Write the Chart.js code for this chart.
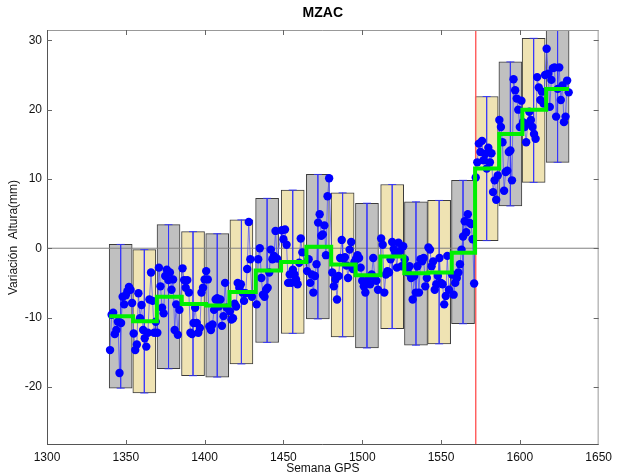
<!DOCTYPE html>
<html>
<head>
<meta charset="utf-8">
<script src="https://cdn.jsdelivr.net/npm/chart.js@4.4.1/dist/chart.umd.min.js"></script>
<style>
  html, body { margin: 0; padding: 0; background: #fff; }
</style>
</head>
<body>
<canvas id="chart" width="617" height="476"></canvas>
<script>
const weekTicks = [1300, 1350, 1400, 1450, 1500, 1550, 1600, 1650];
const heightTicks = [-20, -10, 0, 10, 20, 30];
const eventWeek = 1572;

// segments (GPS week span of each box), mean and box limits in mm
const segStart = [1339.5, 1354.6, 1369.7, 1385.5, 1400.9, 1415.8, 1432.4, 1448.5, 1464.6, 1480.3, 1495.8, 1511.6, 1526.7, 1541.9, 1556.8, 1571.6, 1586.9, 1601.6, 1616.7];
const segEnd = [1354.0, 1368.9, 1384.5, 1399.8, 1415.1, 1430.9, 1446.9, 1463.3, 1479.1, 1494.8, 1510.2, 1526.4, 1541.5, 1555.7, 1571.1, 1586.3, 1601.1, 1615.9, 1631.2];
const segMean = [-9.8, -10.55, -7.0, -8.05, -8.25, -6.3, -3.2, -2.0, 0.2, -2.35, -3.9, -1.2, -3.6, -3.5, -0.65, 11.5, 16.5, 20.0, 23.0];
const segHigh = [0.55, -0.2, 3.4, 2.4, 2.1, 4.1, 7.2, 8.4, 10.65, 8.0, 6.5, 9.2, 6.7, 6.9, 9.8, 21.9, 26.9, 30.3, 33.4];
const segLow = [-20.2, -20.9, -17.4, -18.4, -18.6, -16.7, -13.6, -12.3, -10.2, -12.8, -14.4, -11.6, -14.0, -13.8, -10.9, 1.1, 6.1, 9.5, 12.4];

// weekly height solutions, first week of each segment + values
const firstWeek = [1340, 1355, 1370, 1386, 1401, 1416, 1433, 1449, 1465, 1481, 1496, 1512, 1527, 1542, 1557, 1572, 1587, 1602, 1617];
const heights = [
  [-14.7, -9.6, -9.3, -12.4, -11.8, -10.6, -18.0, -10.8, -7.0, -8.1, -6.8, -6.2, -5.6, -6.0, -7.9],
  [-12.3, -14.7, -13.9, -6.5, -10.1, -8.2, -11.8, -13.0, -14.2, -12.2, -7.4, -3.5, -7.6, -12.2, -10.6],
  [-12.2, -2.8, -5.5, -8.6, -9.4, -4.0, -3.1, -4.6, -3.5, -6.0, -4.5, -11.8, -8.1, -12.5, -8.9],
  [-2.9, -4.6, -5.7, -4.6, -6.4, -12.2, -12.4, -10.8, -8.6, -10.8, -12.2, -11.5, -6.4, -5.7, -4.5],
  [-3.3, -4.5, -11.3, -11.8, -11.0, -8.9, -7.4, -7.2, -8.4, -7.4, -11.2, -9.8, -5.0, -8.6],
  [-9.1, -10.3, -10.1, -8.0, -8.4, -5.0, -5.7, -5.2, -6.4, -7.6, -6.5, -3.0, 3.8, -1.6, -7.0],
  [-8.1, -1.6, 0.0, -4.3, -6.7, -7.0, -6.0, -5.7, -3.5, -0.2, -1.6, -1.1, 2.5, -1.5],
  [2.6, 1.3, 2.7, 0.5, -5.0, -3.8, -5.0, -3.1, -3.8, -4.5, -5.2, -2.1, 1.4, -0.6],
  [-3.3, -1.6, -5.0, -3.8, -6.4, -4.0, -2.3, 3.7, 4.9, 1.8, 2.0, 3.3, -1.0, 7.5, 10.1],
  [-3.5, -5.5, -4.5, -7.4, -4.0, -1.4, 1.2, -1.5, -1.3, -2.5, -4.3, -0.2, 0.9, -3.0, -2.0],
  [-1.6, -1.0, -1.4, -2.8, -4.7, -5.5, -6.4, -5.0, -4.3, -5.2, -3.8, -1.4, -4.3, -4.7, -6.0],
  [1.4, 0.5, -6.4, -3.8, -3.3, -3.5, -1.6, 0.9, -0.1, -0.6, -2.8, 0.8, -0.4, -2.6, 0.3],
  [-1.6, -2.8, -3.5, -2.6, -4.3, -7.4, -4.0, -6.4, -2.6, -6.4, -1.6, -1.9, -1.4, -5.5, -4.3],
  [0.1, -0.2, -2.6, -1.9, -6.0, -5.2, -4.0, -1.4, -5.0, -5.2, -8.1, -6.9, -1.1, -6.0],
  [-3.8, -6.7, -5.0, -4.3, -3.5, -2.3, -0.2, 1.7, 3.9, 2.3, 4.9, 3.7, 3.5, 1.3, -5.1],
  [10.2, 12.4, 15.1, 13.9, 15.5, 12.7, 13.6, 11.5, 14.5, 12.4, 13.7, 8.1, 9.8, 7.0, 10.5],
  [18.5, 17.5, 15.3, 8.3, 11.0, 11.2, 13.9, 14.1, 9.8, 24.4, 22.8, 21.6, 20.0, 17.5, 21.3],
  [18.2, 17.5, 15.3, 18.0, 19.7, 18.5, 17.5, 16.5, 15.8, 24.7, 23.2, 21.4, 22.6, 20.9, 25.0],
  [28.8, 25.2, 20.4, 24.3, 26.0, 26.1, 19.0, 23.0, 26.1, 21.4, 23.5, 18.2, 19.0, 24.2, 22.5],
];

const xMin = 1300, xMax = 1650, yMin = -28.4, yMax = 31.5;
const FONT = '"Liberation Sans", Arial, sans-serif';

const centers = segStart.map((s, i) => (s + segEnd[i]) / 2);

const series = [];
heights.forEach((vals, i) => vals.forEach((v, j) => series.push({ x: firstWeek[i] + j, y: v })));

const boxes = centers.map((c, i) => ({ x: c, y: [segLow[i], segHigh[i]] }));

const errBars = [];
centers.forEach((c, i) => {
  errBars.push({ x: c, y: segHigh[i] }, { x: c, y: segLow[i] }, { x: c, y: null });
});

const steps = segStart.map((s, i) => ({ x: s, y: segMean[i] }));
steps.push({ x: segEnd[segEnd.length - 1], y: segMean[segMean.length - 1] });

const frame = {
  id: "frame",
  afterDraw(chart) {
    const { ctx, chartArea: a, scales: { x, y } } = chart;
    ctx.save();
    ctx.lineWidth = 1;
    ctx.strokeStyle = "#999";
    ctx.beginPath();
    ctx.moveTo(a.left, a.top + 0.5); ctx.lineTo(a.right, a.top + 0.5);
    ctx.moveTo(a.right - 0.5, a.top); ctx.lineTo(a.right - 0.5, a.bottom);
    ctx.stroke();
    ctx.strokeStyle = "#555";
    ctx.beginPath();
    ctx.moveTo(a.left + 0.5, a.top); ctx.lineTo(a.left + 0.5, a.bottom);
    ctx.moveTo(a.left, a.bottom - 0.5); ctx.lineTo(a.right, a.bottom - 0.5);
    ctx.stroke();
    ctx.strokeStyle = "#666";
    ctx.beginPath();
    weekTicks.slice(1, -1).forEach(v => {
      const px = Math.round(x.getPixelForValue(v)) + 0.5;
      ctx.moveTo(px, a.bottom); ctx.lineTo(px, a.bottom - 5);
      ctx.moveTo(px, a.top); ctx.lineTo(px, a.top + 5);
    });
    heightTicks.forEach(v => {
      const py = Math.round(y.getPixelForValue(v)) + 0.5;
      ctx.moveTo(a.left, py); ctx.lineTo(a.left + 5, py);
      ctx.moveTo(a.right, py); ctx.lineTo(a.right - 5, py);
    });
    ctx.stroke();
    ctx.fillStyle = "#000";
    ctx.font = "bold 14px " + FONT;
    ctx.textAlign = "center";
    ctx.textBaseline = "middle";
    ctx.fillText("MZAC", (a.left + a.right) / 2, 13);
    ctx.restore();
  }
};

new Chart(document.getElementById("chart"), {
  type: "line",
  data: {
    datasets: [
      {
        type: "bar",
        data: boxes,
        order: 10,
        barThickness: 23,
        backgroundColor: boxes.map((b, i) => i % 2 ? "#efe3b3" : "#c0c0c0"),
        borderColor: "#3c3c3c",
        borderWidth: 1,
        borderSkipped: false,
      },
      {
        data: [{ x: xMin, y: 0 }, { x: xMax, y: 0 }],
        order: 9,
        borderColor: "#808080",
        borderWidth: 1,
        pointRadius: 0,
      },
      {
        data: [{ x: eventWeek, y: yMax }, { x: eventWeek, y: yMin }],
        order: 8,
        borderColor: "rgba(255,90,90,0.85)",
        borderWidth: 1,
        pointRadius: 0,
      },
      {
        data: errBars,
        order: 7,
        spanGaps: false,
        borderColor: "rgba(50,50,255,0.75)",
        borderWidth: 1,
        pointStyle: "line",
        pointRadius: 4,
        pointBorderColor: "rgba(50,50,255,0.85)",
        pointBorderWidth: 1,
      },
      {
        data: series,
        order: 5,
        borderColor: "rgba(70,70,255,0.7)",
        borderWidth: 1,
        pointRadius: 4.2,
        pointBorderWidth: 0,
        pointBackgroundColor: "#0000ff",
      },
      {
        data: steps,
        order: 3,
        stepped: "before",
        borderColor: "#00f000",
        borderWidth: 4,
        pointRadius: 0,
      },
    ],
  },
  options: {
    responsive: false,
    animation: false,
    events: [],
    layout: { padding: { top: 30, right: 15, left: 0, bottom: 0 } },
    plugins: { legend: { display: false }, tooltip: { enabled: false }, title: { display: false } },
    scales: {
      x: {
        type: "linear",
        min: xMin,
        max: xMax,
        offset: false,
        grid: { display: false, drawTicks: false },
        border: { display: false },
        afterBuildTicks: s => { s.ticks = weekTicks.map(v => ({ value: v })); },
        afterFit: s => { s.height = 31; },
        ticks: { padding: 5, maxRotation: 0, autoSkip: false, color: "#111", font: { family: FONT, size: 12 }, callback: v => String(v) },
        title: { display: true, text: "Semana GPS", color: "#111", padding: { top: 0, bottom: 0 }, font: { family: FONT, size: 12 } },
      },
      y: {
        type: "linear",
        min: yMin,
        max: yMax,
        grid: { display: false, drawTicks: false },
        border: { display: false },
        afterBuildTicks: s => { s.ticks = heightTicks.map(v => ({ value: v })); },
        afterFit: s => { s.width = 47; },
        ticks: { padding: 5, color: "#111", font: { family: FONT, size: 12 }, callback: v => String(v) },
        title: { display: true, text: "Variación  Altura(mm)", color: "#111", padding: { top: 6, bottom: 0 }, font: { family: FONT, size: 12 } },
      },
    },
  },
  plugins: [frame],
});
</script>
</body>
</html>
